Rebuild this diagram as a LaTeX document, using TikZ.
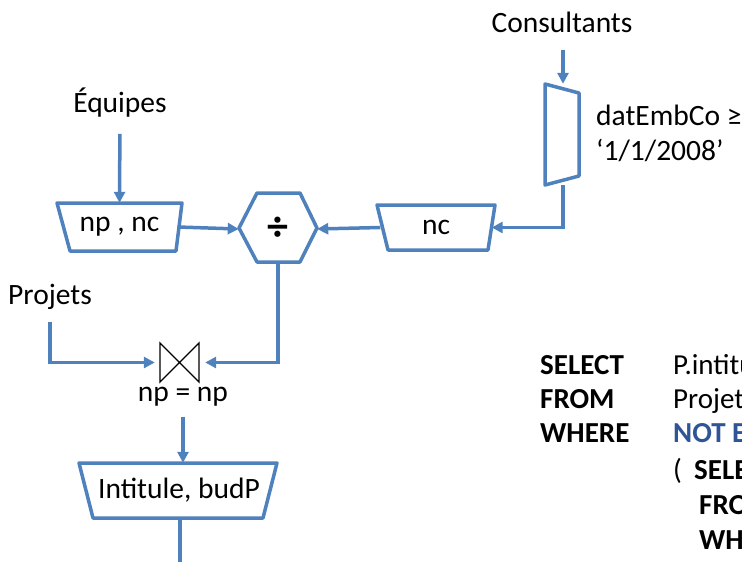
\documentclass[tikz,border=0pt]{standalone}
\usepackage{fontspec}
\setmainfont{Carlito}
\usetikzlibrary{arrows.meta}
\definecolor{lblue}{HTML}{4F81BD}
\definecolor{dblue}{HTML}{2F5597}
\tikzset{
  conn/.style={draw=lblue, line width=3.5pt, -{Triangle[length=11pt,width=11pt]}},
  shapebox/.style={draw=lblue, line width=3.5pt, fill=white, line join=round},
  anchorbox/.style={inner sep=0pt, minimum width=#1},
  lbl/.style={font=\fontsize{29.5}{34}\selectfont, inner sep=0pt},
  sqlk/.style={font=\fontsize{29}{34}\selectfont\bfseries, inner sep=0pt, anchor=base west},
  sqlt/.style={font=\fontsize{29}{34}\selectfont, inner sep=0pt, anchor=base west},
}
\begin{document}
\begin{tikzpicture}[x=1pt,y=-1pt]
\useasboundingbox (0,0) rectangle (742,562);
\clip (0,0) rectangle (742,562);

% selection (vertical trapezium)
\draw[shapebox] (545,84) -- (579,93) -- (579,176) -- (545,185) -- cycle;
\node[anchorbox=34pt, minimum height=101pt] (sel) at (563,134.5) {};

% nc projection
\draw[shapebox] (377,205) -- (495,205) -- (488,250) -- (388,250) -- cycle;
\node[lbl, anchorbox=111pt, minimum height=45pt] (nc) at (436,227.5) {nc};

% division hexagon
\draw[shapebox] (239,228) -- (257,193) -- (300,193) -- (317,228) -- (300,262) -- (257,262) -- cycle;
\node[lbl, anchorbox=78pt, minimum height=69pt, font=\fontsize{42}{46}\selectfont\bfseries] (div) at (278,229) {÷};

% np , nc projection
\draw[shapebox] (57,203) -- (182,203) -- (176,251) -- (70,251) -- cycle;
\node[lbl, anchorbox=116pt, minimum height=48pt] (npnc) at (119.5,227) {np , nc};

% join (bowtie)
\draw[black, line width=1.3pt, line join=miter] (160,343) -- (199,382) -- (199,343) -- (160,382) -- cycle;
\node[anchorbox=39pt, minimum height=39pt] (join) at (179.5,362.5) {};

% final projection
\draw[shapebox] (79,463) -- (277,463) -- (263,518) -- (93,518) -- cycle;
\node[lbl, anchorbox=184pt, minimum height=55pt] (proj) at (179,490.5) {Intitule, budP};

% texts
\node[lbl] (consult) at (562,22) {Consultants};
\node[lbl] (equipes) at (120,103) {Équipes};
\node[lbl] (projets) at (50,297) {Projets};
\node[lbl] (jcond) at (183,397) {np = np};
\node[lbl, anchor=base west] (cond1) at (596,125) {datEmbCo ≥};
\node[lbl, anchor=base west] (cond2) at (596,160) {‘1/1/2008’};

\coordinate (out) at (180,580);

% connectors
\draw[conn, shorten <=17pt] (consult.south -| sel.north) -- (sel.north);
\draw[conn] (sel.south) |- (nc.east);
\draw[conn] (nc.west) -- (div.east);
\draw[conn] (npnc.east) -- (div.west);
\draw[conn, shorten <=16pt] (equipes.south) -- (npnc.north);
\draw[conn, shorten >=6pt] (div.south) |- (join.east);
\draw[conn, shorten <=12pt, shorten >=5pt] (projets.south) |- (join.west);
\draw[conn, shorten <=10pt] (jcond.south) -- (proj.north -| jcond.south);
\draw[conn] (proj.south -| out) -- (out);

% SQL
\node[sqlk] (s1) at (540,374) {SELECT};
\node[sqlk] (s2) at (540,408) {FROM};
\node[sqlk] (s3) at (540,442) {WHERE};
\node[sqlt] (t1) at (673,374) {P.intitule, P.budP};
\node[sqlt] (t2) at (673,408) {Projets P};
\node[sqlk, text=dblue] (t3) at (673,442) {NOT EXISTS};
\node[sqlt] (t4) at (673,479) {(};
\node[sqlk] (t5) at (694,479) {SELECT *};
\node[sqlk] (t6) at (699,514) {FROM};
\node[sqlk] (t7) at (699,549) {WHERE};
\end{tikzpicture}
\end{document}
